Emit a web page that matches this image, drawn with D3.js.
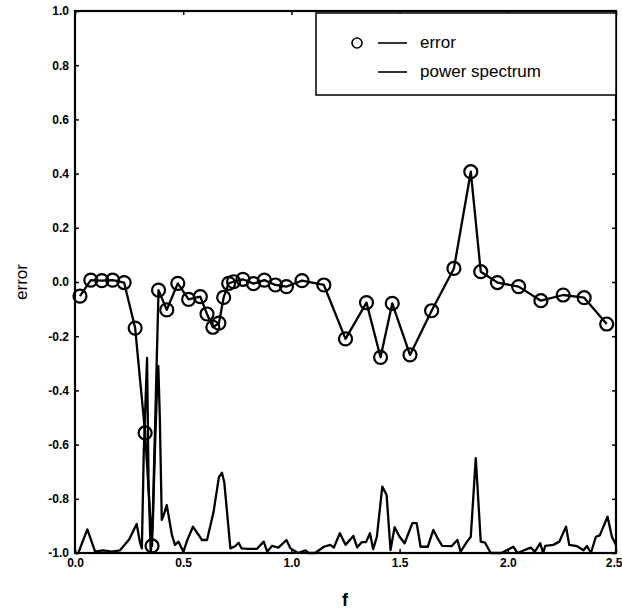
<!DOCTYPE html>
<html><head><meta charset="utf-8">
<script src="https://cdn.jsdelivr.net/npm/d3@7"></script>
<style>body{margin:0;background:#fff}svg{display:block}</style>
</head><body>
<script>
// ---- data ----
const errF = [0.023,0.073,0.124,0.174,0.227,0.278,0.324,0.356,0.386,0.424,0.475,0.525,0.579,0.610,0.637,0.665,0.687,0.710,0.733,0.776,0.825,0.875,0.926,0.977,1.049,1.150,1.250,1.347,1.412,1.466,1.548,1.648,1.751,1.829,1.875,1.952,2.050,2.153,2.256,2.353,2.457];
const errV = [-0.052,0.007,0.005,0.007,-0.002,-0.17,-0.557,-0.974,-0.03,-0.103,-0.005,-0.064,-0.054,-0.118,-0.167,-0.152,-0.057,-0.005,0.001,0.01,-0.006,0.007,-0.011,-0.017,0.005,-0.011,-0.21,-0.076,-0.278,-0.079,-0.269,-0.106,0.05,0.407,0.038,-0.002,-0.017,-0.069,-0.048,-0.058,-0.155];
const psF = [0.00,0.015,0.057,0.093,0.13,0.17,0.208,0.25,0.285,0.30,0.309,0.318,0.333,0.340,0.35,0.36,0.37,0.378,0.385,0.392,0.401,0.41,0.424,0.448,0.462,0.478,0.501,0.52,0.545,0.587,0.61,0.64,0.665,0.679,0.69,0.718,0.74,0.756,0.77,0.80,0.84,0.872,0.888,0.91,0.94,0.977,0.996,1.03,1.065,1.08,1.11,1.15,1.18,1.196,1.224,1.25,1.286,1.304,1.325,1.345,1.363,1.378,1.395,1.42,1.44,1.458,1.477,1.50,1.523,1.559,1.579,1.597,1.63,1.656,1.675,1.697,1.74,1.767,1.782,1.81,1.829,1.852,1.875,1.895,1.921,1.97,1.995,2.026,2.045,2.075,2.106,2.125,2.15,2.163,2.173,2.21,2.238,2.269,2.284,2.32,2.35,2.366,2.384,2.407,2.425,2.461,2.481,2.5];
const psV = [-1.0,-1.0,-0.913,-0.995,-0.99,-0.995,-0.99,-0.95,-0.893,-0.96,-0.983,-0.62,-0.28,-0.75,-1.0,-0.88,-0.6,-0.42,-0.31,-0.5,-0.878,-0.86,-0.823,-0.934,-0.97,-0.958,-0.995,-0.95,-0.903,-0.952,-0.952,-0.85,-0.72,-0.704,-0.74,-0.983,-0.975,-0.962,-0.983,-0.985,-0.985,-0.958,-0.995,-0.974,-0.98,-0.952,-0.983,-1.0,-0.99,-1.0,-1.0,-0.977,-0.97,-0.98,-0.927,-0.97,-0.937,-0.979,-0.96,-0.96,-0.927,-0.986,-0.94,-0.755,-0.786,-0.989,-0.905,-0.94,-0.964,-0.89,-0.89,-0.977,-0.977,-0.915,-0.945,-0.974,-0.975,-0.952,-0.995,-0.96,-0.94,-0.65,-0.958,-0.962,-1.0,-1.0,-0.99,-0.977,-1.0,-0.99,-0.98,-0.995,-0.964,-1.0,-0.974,-0.97,-0.958,-0.903,-0.97,-0.975,-0.99,-0.974,-1.0,-0.94,-0.935,-0.866,-0.94,-0.97];
const xTicks = [0, 0.5, 1.0, 1.5, 2.0, 2.5];
const xTickLabels = ["0.0","0.5","1.0","1.5","2.0","2.5"];
const yTicks = [1.0,0.8,0.6,0.4,0.2,0.0,-0.2,-0.4,-0.6,-0.8,-1.0];
const yTickLabels = ["1.0","0.8","0.6","0.4","0.2","0.0","-0.2","-0.4","-0.6","-0.8","-1.0"];
const legendLabels = ["error","power spectrum"];

// ---- chart ----
const W = 622, H = 613;
const L = 75, R = 616, T = 11, B = 553;
const x = d3.scaleLinear().domain([0, 2.5]).range([L, R]);
const y = d3.scaleLinear().domain([-1, 1]).range([B, T]);

const svg = d3.select("body").append("svg").attr("width", W).attr("height", H);
const font = "'Liberation Sans', Arial, Helvetica, sans-serif";

// power spectrum
const line = d3.line().x(d => x(d[0])).y(d => y(d[1]));
svg.append("path").datum(psF.map((f,i)=>[f, psV[i]]))
  .attr("d", line).attr("fill","none").attr("stroke","#000").attr("stroke-width",2.3).attr("stroke-linejoin","round");

// error line
const errData = errF.map((f,i)=>[f, errV[i]]);
svg.append("path").datum(errData)
  .attr("d", line).attr("fill","none").attr("stroke","#000").attr("stroke-width",2.3).attr("stroke-linejoin","round");
svg.append("g").selectAll("circle").data(errData).join("circle")
  .attr("cx", d => x(d[0])).attr("cy", d => y(d[1])).attr("r", 6.5)
  .attr("fill","none").attr("stroke","#000").attr("stroke-width",2.2);

// axes
const yAxis = d3.axisLeft(y).tickValues(yTicks).tickSize(-4).tickPadding(6)
  .tickFormat((d,i)=>yTickLabels[i]);
const gy = svg.append("g").attr("transform",`translate(${L},0)`).call(yAxis);
const yAxisR = d3.axisRight(y).tickValues(yTicks).tickSize(-4).tickFormat("");
const gyr = svg.append("g").attr("transform",`translate(${R},0)`).call(yAxisR);
const xAxis = d3.axisBottom(x).tickValues(xTicks).tickSize(-4).tickPadding(5)
  .tickFormat((d,i)=>xTickLabels[i]);
const gx = svg.append("g").attr("transform",`translate(0,${B})`).call(xAxis);
const xAxisT = d3.axisTop(x).tickValues(xTicks).tickSize(-4).tickFormat("");
const gxt = svg.append("g").attr("transform",`translate(0,${T})`).call(xAxisT);
[gy,gyr,gx,gxt].forEach(g=>{
  g.select(".domain").remove();
  g.selectAll("line").attr("stroke","#000").attr("stroke-width",1.5);
  g.selectAll("text").attr("font-family",font).attr("font-size",12).attr("font-weight","bold").attr("fill","#000");
});
// keep the last x label inside the picture
gx.selectAll(".tick").filter(d => d === 2.5).select("text").attr("text-anchor","end").attr("dx", 6);
svg.append("rect").attr("x",L).attr("y",T).attr("width",R-L).attr("height",B-T)
  .attr("fill","none").attr("stroke","#000").attr("stroke-width",2.2);

// axis titles
svg.append("text").attr("transform",`translate(27,${y(0)}) rotate(-90)`)
  .attr("text-anchor","middle").attr("font-family",font).attr("font-size",17).text("error");
svg.append("text").attr("x",345).attr("y",606).attr("text-anchor","middle")
  .attr("font-family",font).attr("font-size",18).attr("font-weight","bold").text("f");

// legend
const lg = svg.append("g");
lg.append("rect").attr("x",316).attr("y",13).attr("width",R-316).attr("height",82)
  .attr("fill","#fff").attr("stroke","#000").attr("stroke-width",1.5);
lg.append("circle").attr("cx",357).attr("cy",43).attr("r",5).attr("fill","none").attr("stroke","#000").attr("stroke-width",1.6);
[43,72].forEach((yy,i)=>{
  lg.append("line").attr("x1",378).attr("x2",407).attr("y1",yy).attr("y2",yy).attr("stroke","#000").attr("stroke-width",1.6);
  lg.append("text").attr("x",420).attr("y",yy+5).attr("font-family",font).attr("font-size",17).attr("fill","#000").text(legendLabels[i]);
});
</script>
</body></html>
